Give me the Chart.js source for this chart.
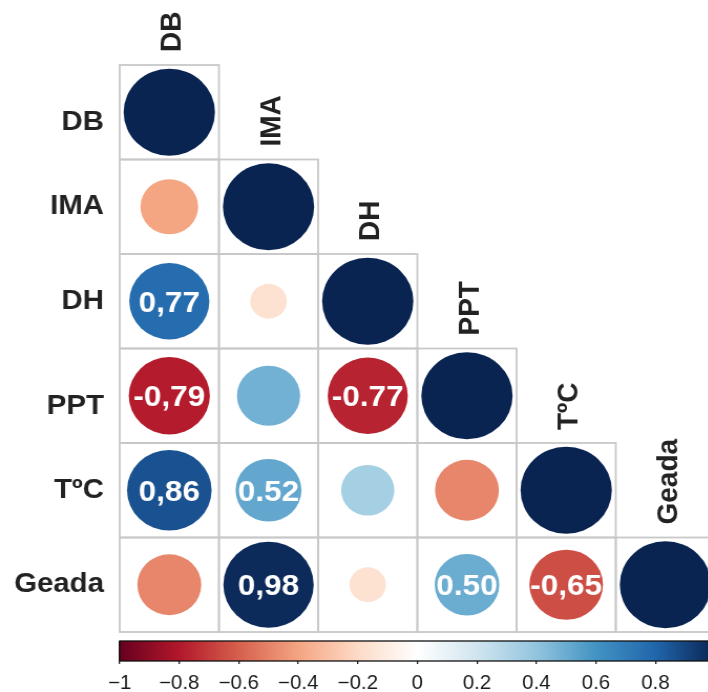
<!DOCTYPE html>
<html>
<head>
<meta charset="utf-8">
<title>Correlação entre variáveis</title>
<script src="https://cdn.jsdelivr.net/npm/chart.js@4.4.1/dist/chart.umd.min.js"></script>
<style>
  html, body { margin: 0; padding: 0; background: #ffffff; width: 708px; height: 692px; overflow: hidden; }
</style>
</head>
<body>
<!-- the drawing surface is stretched slightly wider than tall -->
<canvas id="corr" width="681" height="692" style="display:block;width:715px;height:692px"></canvas>
<script>
// variables, in matrix order
const variables = ['DB', 'IMA', 'DH', 'PPT', 'TºC', 'Geada'];

// lower triangle of the correlation matrix, one row per variable
const rowDB    = [1];
const rowIMA   = [-0.40, 1];
const rowDH    = [0.77, -0.16, 1];
const rowPPT   = [-0.79, 0.48, -0.77, 1];
const rowTC    = [0.86, 0.52, 0.34, -0.49, 1];
const rowGeada = [-0.49, 0.98, -0.16, 0.50, -0.65, 1];
const corrRows = [rowDB, rowIMA, rowDH, rowPPT, rowTC, rowGeada];

// cells that carry a printed coefficient: [row, column, decimal mark]
const printedCells = [
  [2, 0, ','], [3, 0, ','], [3, 2, '.'], [4, 0, ','],
  [4, 1, '.'], [5, 1, ','], [5, 3, '.'], [5, 4, ',']
];

// colour bar ticks
const colorbarTicks = [-1, -0.8, -0.6, -0.4, -0.2, 0, 0.2, 0.4, 0.6, 0.8, 1];

// diverging red–blue palette, from -1 to 1
const rdbu = ['#67001F', '#B2182B', '#D6604D', '#F4A582', '#FDDBC7', '#FFFFFF',
              '#D1E5F0', '#92C5DE', '#4393C3', '#2166AC', '#0A2452'];

// ---- styling ----
const FONT = "'Liberation Sans', Arial, Helvetica, sans-serif";
const TEXT_COLOR = '#222222';
const CELL_PX = 94.5;          // cell size on the canvas
const BAR_GAP = 9;             // space between matrix and colour bar
const BAR_H = 20;              // colour bar thickness
const MAX_R = 0.46;            // radius of |r| = 1, as a fraction of a cell
const ROW_LABEL_NUDGE = [10, 0, 0, 11, 0, 0]; // px, downward shift of some row labels

function hexToRgb(h) {
  const n = parseInt(h.slice(1), 16);
  return [(n >> 16) & 255, (n >> 8) & 255, n & 255];
}
function rdbuColor(v) {
  const pos = (Math.max(-1, Math.min(1, v)) + 1) / 2 * (rdbu.length - 1);
  const i = Math.min(Math.floor(pos), rdbu.length - 2);
  const t = pos - i;
  const a = hexToRgb(rdbu[i]), b = hexToRgb(rdbu[i + 1]);
  const c = a.map((av, k) => Math.round(av + (b[k] - av) * t));
  return `rgb(${c[0]},${c[1]},${c[2]})`;
}

const points = [];
corrRows.forEach((row, i) => row.forEach((v, j) => points.push({ x: j, y: i, v })));

function cellSize(chart) {
  const s = chart.scales.x;
  return Math.abs(s.getPixelForValue(1) - s.getPixelForValue(0));
}

// square outline around every cell of the lower triangle
const cellGrid = {
  id: 'cellGrid',
  beforeDatasetsDraw(chart) {
    const { x, y } = chart.scales;
    const c = chart.ctx;
    c.save();
    c.strokeStyle = '#c8c8c8';
    c.lineWidth = 1.8;
    corrRows.forEach((row, i) => row.forEach((v, j) => {
      const x0 = x.getPixelForValue(j - 0.5), x1 = x.getPixelForValue(j + 0.5);
      const y0 = y.getPixelForValue(i - 0.5), y1 = y.getPixelForValue(i + 0.5);
      c.strokeRect(x0, y0, x1 - x0, y1 - y0);
    }));
    c.restore();
  }
};

// printed coefficients inside the circles
const cellValues = {
  id: 'cellValues',
  afterDatasetsDraw(chart) {
    const { x, y } = chart.scales;
    const c = chart.ctx;
    const size = 30;
    c.save();
    c.font = `bold ${size}px ${FONT}`;
    c.fillStyle = '#ffffff';
    c.textAlign = 'center';
    c.textBaseline = 'alphabetic';
    printedCells.forEach(([i, j, mark]) => {
      const v = corrRows[i][j];
      const txt = (v < 0 ? '-' : '') + Math.abs(v).toFixed(2).replace('.', mark);
      c.fillText(txt, x.getPixelForValue(j), y.getPixelForValue(i) + size * 0.358);
    });
    c.restore();
  }
};

// variable names above the diagonal, read bottom to top
const columnLabels = {
  id: 'columnLabels',
  afterDraw(chart) {
    const { x, y } = chart.scales;
    const c = chart.ctx;
    const size = 28;
    c.save();
    c.font = `bold ${size}px ${FONT}`;
    c.fillStyle = TEXT_COLOR;
    c.textAlign = 'left';
    c.textBaseline = 'alphabetic';
    variables.forEach((name, j) => {
      const cx = x.getPixelForValue(j) + 1;
      const top = y.getPixelForValue(j - 0.5) - 13;
      c.save();
      c.translate(cx + size * 0.358, top);
      c.rotate(-Math.PI / 2);
      c.fillText(name, 0, 0);
      c.restore();
    });
    c.restore();
  }
};

// gradient strip of the colour scale
const colorBar = {
  id: 'colorBar',
  afterDraw(chart) {
    const cb = chart.scales.cb;
    const c = chart.ctx;
    const top = chart.chartArea.bottom;
    const x0 = cb.getPixelForValue(-1), x1 = cb.getPixelForValue(1);
    const g = c.createLinearGradient(x0, 0, x1, 0);
    rdbu.forEach((col, k) => g.addColorStop(k / (rdbu.length - 1), col));
    c.save();
    c.fillStyle = g;
    c.fillRect(x0, top, x1 - x0, BAR_H);
    c.strokeStyle = '#111111';
    c.lineWidth = 1.3;
    c.strokeRect(x0, top, x1 - x0, BAR_H);
    c.restore();
  }
};

function fmtTick(v) {
  if (Math.abs(v) < 1e-9) return '0';
  const s = Math.abs(v).toFixed(1).replace(/\.0$/, '');
  return (v < 0 ? '\u2212' : '') + s;
}

const n = variables.length;

new Chart(document.getElementById('corr'), {
  type: 'scatter',
  data: {
    datasets: [{
      data: points,
      xAxisID: 'x',
      yAxisID: 'y',
      clip: false,
      pointRadius: ctx => MAX_R * cellSize(ctx.chart) * Math.sqrt(Math.abs(ctx.raw.v)),
      pointHoverRadius: ctx => MAX_R * cellSize(ctx.chart) * Math.sqrt(Math.abs(ctx.raw.v)),
      pointBackgroundColor: ctx => rdbuColor(ctx.raw.v),
      pointHoverBackgroundColor: ctx => rdbuColor(ctx.raw.v),
      pointBorderWidth: 0,
      pointHoverBorderWidth: 0
    }]
  },
  options: {
    responsive: false,
    animation: false,
    events: [],
    layout: { padding: { top: 65, left: 0, right: 0, bottom: 0 } },
    plugins: { legend: { display: false }, tooltip: { enabled: false } },
    scales: {
      x: { type: 'linear', min: -0.5, max: n - 0.5, display: false },
      y: {
        type: 'linear',
        position: 'left',
        reverse: true,
        min: -0.5,
        max: n - 0.5 + BAR_GAP / CELL_PX,
        grid: { display: false, drawTicks: false },
        border: { display: false },
        afterBuildTicks(s) {
          s.ticks = variables.map((_, i) => ({ value: i + ROW_LABEL_NUDGE[i] / CELL_PX }));
        },
        afterFit(s) {
          s.width = 114;
          s.paddingTop = 0; s.paddingBottom = 0;
        },
        ticks: {
          autoSkip: false,
          padding: 15,
          color: TEXT_COLOR,
          font: { family: FONT, size: 28, weight: 'bold' },
          callback: (value, index) => variables[index]
        }
      },
      cb: {
        type: 'linear',
        axis: 'x',
        position: 'bottom',
        min: -1,
        max: 1,
        grid: { drawOnChartArea: false, drawTicks: true, tickLength: BAR_H + 3, color: '#222222', lineWidth: 1.3 },
        border: { display: false },
        afterBuildTicks(s) {
          s.ticks = colorbarTicks.map(v => ({ value: v }));
        },
        afterFit(s) {
          s.height = 692 - 65 - n * CELL_PX - BAR_GAP;
          s.paddingLeft = 0; s.paddingRight = 0;
        },
        ticks: {
          autoSkip: false,
          maxRotation: 0,
          padding: 8,
          color: '#1a1a1a',
          font: { family: FONT, size: 19.5 },
          callback: v => fmtTick(v)
        }
      }
    }
  },
  plugins: [cellGrid, cellValues, columnLabels, colorBar]
});
</script>
</body>
</html>
